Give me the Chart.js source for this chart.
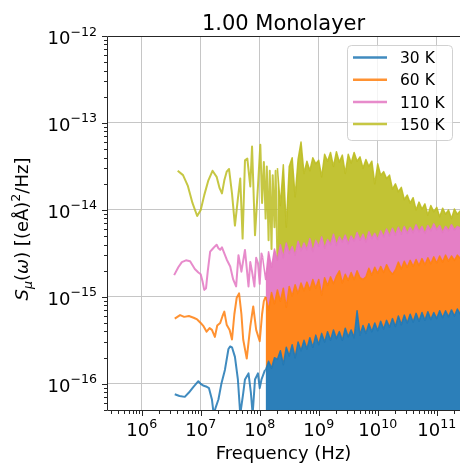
<!DOCTYPE html>
<html>
<head>
<meta charset="utf-8">
<script src="https://cdn.jsdelivr.net/npm/chart.js@4.4.0/dist/chart.umd.min.js"></script>
<style>
  body { margin: 0; background: #fff; }
  canvas { display: block; }
</style>
</head>
<body>
<canvas id="spectrum" width="460" height="465"></canvas>
<script>
const seriesLabels = ["30 K", "60 K", "110 K", "150 K"];
const seriesColors = ["31,119,180", "255,127,14", "227,119,194", "188,189,34"];
const bandColors = ["44,127,185", "255,133,28", "229,127,198", "194,195,52"];

// low-frequency part of each spectrum, as log10(f [Hz]) and log10(S)
const lowFreqExp30 = [6.56, 6.64, 6.73, 6.80, 6.87, 6.96, 7.00, 7.04, 7.09, 7.14,
  7.19, 7.22, 7.25, 7.30, 7.35, 7.41, 7.47, 7.50, 7.53, 7.58,
  7.63, 7.67, 7.72, 7.75, 7.81, 7.85, 7.88, 7.92, 7.97, 8.00,
  8.03, 8.09];
const lowVal30 = [-16.12, -16.14, -16.15, -16.10, -16.04, -15.97, -16.00, -16.02, -16.03, -16.05,
  -16.18, -16.35, -16.28, -16.18, -16.00, -15.84, -15.60, -15.57, -15.58, -15.69,
  -15.95, -16.35, -16.11, -15.95, -15.88, -16.10, -16.35, -15.95, -15.88, -16.05,
  -15.95, -15.84];

const lowFreqExp60 = [6.56, 6.65, 6.72, 6.80, 6.88, 6.94, 7.00, 7.05, 7.10, 7.15,
  7.19, 7.24, 7.28, 7.33, 7.37, 7.40, 7.44, 7.49, 7.53, 7.57,
  7.61, 7.65, 7.69, 7.72, 7.78, 7.84, 7.89, 7.94, 8.00, 8.04,
  8.07, 8.10];
const lowVal60 = [-15.25, -15.21, -15.23, -15.22, -15.24, -15.26, -15.30, -15.34, -15.40, -15.36,
  -15.38, -15.46, -15.33, -15.30, -15.22, -15.17, -15.32, -15.38, -15.49, -15.20,
  -15.01, -14.96, -15.20, -15.49, -15.71, -15.34, -15.11, -15.38, -15.51, -15.20,
  -15.05, -15.00];

const lowFreqExp110 = [6.55, 6.62, 6.68, 6.75, 6.82, 6.90, 6.96, 7.00, 7.03, 7.06,
  7.09, 7.12, 7.16, 7.20, 7.24, 7.27, 7.30, 7.33, 7.36, 7.40,
  7.44, 7.50, 7.55, 7.60, 7.64, 7.69, 7.75, 7.81, 7.84, 7.87,
  7.91, 7.94, 7.97, 8.00, 8.03, 8.05];
const lowVal110 = [-14.75, -14.66, -14.60, -14.58, -14.59, -14.68, -14.72, -14.74, -14.82, -14.92,
  -14.90, -14.70, -14.48, -14.45, -14.42, -14.40, -14.44, -14.46, -14.43, -14.50,
  -14.57, -14.65, -14.80, -14.88, -14.52, -14.71, -14.46, -14.88, -14.60, -14.71,
  -14.88, -14.55, -14.61, -14.85, -14.50, -14.55];

const lowFreqExp150 = [6.61, 6.70, 6.78, 6.86, 6.94, 7.00, 7.06, 7.13, 7.20, 7.27,
  7.32, 7.36, 7.40, 7.44, 7.48, 7.53, 7.58, 7.63, 7.67, 7.71,
  7.75, 7.79, 7.84, 7.87, 7.92, 7.97, 8.01, 8.04, 8.07, 8.10,
  8.12, 8.15, 8.17, 8.20, 8.22, 8.25, 8.27, 8.30];
const lowVal150 = [-13.55, -13.60, -13.72, -13.92, -14.07, -14.00, -13.83, -13.66, -13.55, -13.62,
  -13.75, -13.81, -13.66, -13.56, -13.53, -13.81, -14.18, -13.87, -13.64, -14.33,
  -13.43, -13.41, -13.73, -13.27, -14.29, -13.73, -13.25, -13.92, -13.45, -14.10,
  -13.50, -14.35, -13.55, -14.45, -13.60, -14.20, -13.55, -14.60];

// dense high-frequency part: top edge of the noise band, log10(f) and log10(S)
const bandFreqExp30 = [8.10, 8.15, 8.20, 8.25, 8.30, 8.35, 8.40, 8.45, 8.50, 8.55,
  8.60, 8.65, 8.70, 8.75, 8.80, 8.85, 8.90, 8.95, 9.00, 9.05,
  9.10, 9.15, 9.20, 9.25, 9.30, 9.35, 9.40, 9.45, 9.50, 9.55,
  9.60, 9.65, 9.70, 9.75, 9.80, 9.85, 9.90, 9.95, 10.00, 10.05,
  10.10, 10.15, 10.20, 10.25, 10.30, 10.35, 10.40, 10.45, 10.50, 10.55,
  10.60, 10.65, 10.70, 10.75, 10.80, 10.85, 10.90, 10.95, 11.00, 11.05,
  11.10, 11.15, 11.20, 11.25, 11.30, 11.35, 11.40];
const band30 = [-15.84, -15.74, -15.82, -15.70, -15.72, -15.62, -15.78, -15.58, -15.68, -15.55,
  -15.70, -15.52, -15.62, -15.50, -15.60, -15.47, -15.58, -15.44, -15.55, -15.42,
  -15.52, -15.40, -15.50, -15.38, -15.48, -15.40, -15.50, -15.36, -15.46, -15.38,
  -15.47, -15.16, -15.44, -15.33, -15.42, -15.31, -15.40, -15.30, -15.39, -15.28,
  -15.37, -15.27, -15.35, -15.25, -15.34, -15.22, -15.32, -15.21, -15.30, -15.20,
  -15.29, -15.19, -15.28, -15.18, -15.27, -15.17, -15.26, -15.18, -15.25, -15.16,
  -15.24, -15.16, -15.23, -15.15, -15.22, -15.14, -15.20];

const bandFreqExp60 = [8.10, 8.15, 8.20, 8.25, 8.30, 8.35, 8.40, 8.45, 8.50, 8.55,
  8.60, 8.65, 8.70, 8.75, 8.80, 8.85, 8.90, 8.95, 9.00, 9.05,
  9.10, 9.15, 9.20, 9.25, 9.30, 9.35, 9.40, 9.45, 9.50, 9.55,
  9.60, 9.65, 9.70, 9.75, 9.80, 9.85, 9.90, 9.95, 10.00, 10.05,
  10.10, 10.15, 10.20, 10.25, 10.30, 10.35, 10.40, 10.45, 10.50, 10.55,
  10.60, 10.65, 10.70, 10.75, 10.80, 10.85, 10.90, 10.95, 11.00, 11.05,
  11.10, 11.15, 11.20, 11.25, 11.30, 11.35, 11.40];
const band60 = [-15.00, -15.15, -14.95, -15.08, -14.92, -15.05, -14.90, -15.12, -14.88, -14.99,
  -14.86, -14.96, -14.84, -14.93, -14.83, -14.92, -14.80, -14.90, -14.80, -14.98,
  -14.78, -14.87, -14.77, -14.85, -14.76, -14.70, -14.84, -14.74, -14.81, -14.72,
  -14.80, -14.70, -14.78, -14.80, -14.77, -14.67, -14.75, -14.66, -14.73, -14.65,
  -14.72, -14.63, -14.70, -14.74, -14.69, -14.60, -14.68, -14.59, -14.66, -14.58,
  -14.65, -14.57, -14.64, -14.56, -14.63, -14.55, -14.62, -14.54, -14.61, -14.53,
  -14.60, -14.52, -14.59, -14.53, -14.58, -14.52, -14.56];

const bandFreqExp110 = [8.05, 8.10, 8.15, 8.20, 8.25, 8.30, 8.35, 8.40, 8.45, 8.50,
  8.55, 8.60, 8.65, 8.70, 8.75, 8.80, 8.85, 8.90, 8.95, 9.00,
  9.05, 9.10, 9.15, 9.20, 9.25, 9.30, 9.35, 9.40, 9.45, 9.50,
  9.55, 9.60, 9.65, 9.70, 9.75, 9.80, 9.85, 9.90, 9.95, 10.00,
  10.05, 10.10, 10.15, 10.20, 10.25, 10.30, 10.35, 10.40, 10.45, 10.50,
  10.55, 10.60, 10.65, 10.70, 10.75, 10.80, 10.85, 10.90, 10.95, 11.00,
  11.05, 11.10, 11.15, 11.20, 11.25, 11.30, 11.35, 11.40];
const band110 = [-14.55, -14.80, -14.48, -14.66, -14.45, -14.58, -14.40, -14.55, -14.38, -14.50,
  -14.42, -14.52, -14.36, -14.47, -14.38, -14.46, -14.33, -14.48, -14.35, -14.42,
  -14.31, -14.44, -14.34, -14.40, -14.28, -14.41, -14.31, -14.37, -14.29, -14.39,
  -14.30, -14.36, -14.26, -14.35, -14.28, -14.37, -14.25, -14.33, -14.27, -14.34,
  -14.24, -14.31, -14.22, -14.30, -14.21, -14.29, -14.20, -14.28, -14.19, -14.27,
  -14.20, -14.26, -14.17, -14.25, -14.19, -14.27, -14.18, -14.24, -14.16, -14.23,
  -14.18, -14.26, -14.19, -14.24, -14.17, -14.23, -14.19, -14.21];

const bandFreqExp150 = [8.30, 8.35, 8.40, 8.45, 8.50, 8.55, 8.60, 8.65, 8.70, 8.75,
  8.80, 8.85, 8.90, 8.95, 9.00, 9.05, 9.10, 9.15, 9.20, 9.25,
  9.30, 9.35, 9.40, 9.45, 9.50, 9.55, 9.60, 9.65, 9.70, 9.75,
  9.80, 9.85, 9.90, 9.95, 10.00, 10.05, 10.10, 10.15, 10.20, 10.25,
  10.30, 10.35, 10.40, 10.45, 10.50, 10.55, 10.60, 10.65, 10.70, 10.75,
  10.80, 10.85, 10.90, 10.95, 11.00, 11.05, 11.10, 11.15, 11.20, 11.25,
  11.30, 11.35, 11.40];
const band150 = [-13.52, -13.95, -13.48, -14.20, -13.50, -13.40, -13.85, -13.42, -13.22, -13.58,
  -13.44, -13.55, -13.40, -13.47, -13.43, -13.62, -13.36, -13.44, -13.34, -13.50,
  -13.33, -13.45, -13.37, -13.58, -13.36, -13.46, -13.34, -13.44, -13.39, -13.52,
  -13.42, -13.50, -13.44, -13.70, -13.47, -13.60, -13.56, -13.64, -13.60, -13.76,
  -13.70, -13.79, -13.74, -13.88, -13.83, -13.92, -13.86, -14.00, -13.91, -13.99,
  -13.93, -14.06, -13.95, -14.02, -13.97, -14.08, -13.98, -14.05, -14.00, -14.10,
  -13.99, -14.05, -14.01];

const xTickExps = [6, 7, 8, 9, 10, 11];
const yTickExps = [-16, -15, -14, -13, -12];
const xMin = 2.58e5, xMax = 2.48e11;
const yMin = 5e-17, yMax = 1e-12;

const lowFreqs = [lowFreqExp30, lowFreqExp60, lowFreqExp110, lowFreqExp150];
const lowVals = [lowVal30, lowVal60, lowVal110, lowVal150];
const bandFreqs = [bandFreqExp30, bandFreqExp60, bandFreqExp110, bandFreqExp150];
const bands = [band30, band60, band110, band150];

function toPoints(freqExp, valExp) {
    return freqExp.map((f, i) => ({ x: Math.pow(10, f), y: Math.pow(10, valExp[i]) }));
}

const rgba = (c, a) => "rgba(" + c + "," + a + ")";

// line + band per temperature; the first dataset ends up drawn on top.
// each band is filled down to the top of the next colder band (index 2i-1)
const datasets = [];
seriesLabels.forEach((label, i) => {
    datasets.push({
        label: label,
        data: toPoints(lowFreqs[i], lowVals[i]),
        borderColor: rgba(seriesColors[i], 0.85),
        borderWidth: 2,
        borderJoinStyle: "round",
        pointRadius: 0,
        fill: false,
    });
    datasets.push({
        label: label + " band",
        data: toPoints(bandFreqs[i], bands[i]),
        borderColor: rgba(seriesColors[i], 0.9),
        backgroundColor: rgba(bandColors[i], 1),
        borderWidth: 1.5,
        borderJoinStyle: "round",
        pointRadius: 0,
        fill: i === 0 ? "start" : 2 * i - 1,
    });
});

const FONT = "'DejaVu Sans', sans-serif";

function drawPower(ctx, exp, x, y, align) {
    const base = "10";
    const sup = exp < 0 ? "\u2212" + Math.abs(exp) : String(exp);
    ctx.font = "18px " + FONT;
    const wb = ctx.measureText(base).width;
    ctx.font = "12.6px " + FONT;
    const ws = ctx.measureText(sup).width;
    const x0 = align === "right" ? x - wb - ws : x - (wb + ws) / 2;
    ctx.textAlign = "left";
    ctx.font = "18px " + FONT;
    ctx.fillText(base, x0, y);
    ctx.font = "12.6px " + FONT;
    ctx.fillText(sup, x0 + wb, y - 8.5);
}

const decorations = {
    id: "decorations",
    afterDraw(chart) {
        const { ctx, chartArea: a } = chart;
        const xs = chart.scales.x, ys = chart.scales.y;
        ctx.save();
        ctx.strokeStyle = "#262626";
        ctx.lineWidth = 1;

        // spines
        ctx.beginPath();
        ctx.moveTo(a.right, a.top + 0.5);
        ctx.lineTo(a.left + 0.5, a.top + 0.5);
        ctx.lineTo(a.left + 0.5, a.bottom + 0.5);
        ctx.lineTo(a.right, a.bottom + 0.5);
        ctx.stroke();

        // major and minor tick marks
        ctx.beginPath();
        for (let d = 5; d <= 11; d++) {
            for (let k = 1; k <= 9; k++) {
                const v = k * Math.pow(10, d);
                if (v < xMin || v > xMax) continue;
                const px = Math.round(xs.getPixelForValue(v)) + 0.5;
                ctx.moveTo(px, a.bottom + 1);
                ctx.lineTo(px, a.bottom + (k === 1 ? 6 : 4));
            }
        }
        for (let d = -17; d <= -12; d++) {
            for (let k = 1; k <= 9; k++) {
                const v = k * Math.pow(10, d);
                if (v < yMin || v > yMax * 1.0001) continue;
                const py = Math.round(ys.getPixelForValue(v)) + 0.5;
                ctx.moveTo(a.left, py);
                ctx.lineTo(a.left - (k === 1 ? 5 : 3), py);
            }
        }
        ctx.stroke();

        // tick labels
        ctx.fillStyle = "#000";
        ctx.textBaseline = "alphabetic";
        xTickExps.forEach(e => drawPower(ctx, e, xs.getPixelForValue(Math.pow(10, e)), 436, "center"));
        yTickExps.forEach(e => drawPower(ctx, e, 97, ys.getPixelForValue(Math.pow(10, e)) + 8, "right"));

        // title and x label
        ctx.textAlign = "center";
        ctx.font = "21px " + FONT;
        ctx.fillText("1.00 Monolayer", (a.left + a.right) / 2, 29.5);
        ctx.font = "18px " + FONT;
        ctx.fillText("Frequency (Hz)", (a.left + a.right) / 2, 459);

        // y label: S_mu(omega) [(eÅ)^2/Hz]
        const parts = [
            { t: "S", f: "italic 18px ", dy: 0 },
            { t: "\u03bc", f: "italic 12.6px ", dy: 3.5 },
            { t: "(", f: "18px ", dy: 0 },
            { t: "\u03c9", f: "italic 18px ", dy: 0 },
            { t: ")", f: "18px ", dy: 0 },
            { t: " [(e\u00c5)", f: "18px ", dy: 0 },
            { t: "2", f: "12.6px ", dy: -8 },
            { t: "/Hz]", f: "18px ", dy: 0 },
        ];
        let total = 0;
        parts.forEach(p => { ctx.font = p.f + FONT; p.w = ctx.measureText(p.t).width; total += p.w; });
        ctx.save();
        ctx.translate(28, 229);
        ctx.rotate(-Math.PI / 2);
        ctx.textAlign = "left";
        let cx = -total / 2;
        parts.forEach(p => { ctx.font = p.f + FONT; ctx.fillText(p.t, cx, p.dy); cx += p.w; });
        ctx.restore();

        // legend
        const lx = 347.5, ly = 45.5, lw = 105, lh = 95;
        ctx.beginPath();
        ctx.roundRect(lx, ly, lw, lh, 4);
        ctx.fillStyle = "rgba(255,255,255,0.8)";
        ctx.fill();
        ctx.strokeStyle = "rgba(204,204,204,0.9)";
        ctx.stroke();
        ctx.font = "15.5px " + FONT;
        ctx.textAlign = "left";
        seriesLabels.forEach((label, i) => {
            const ry = 57.5 + i * 22.2;
            ctx.strokeStyle = rgba(seriesColors[i], 0.85);
            ctx.lineWidth = 2.5;
            ctx.beginPath();
            ctx.moveTo(353, ry);
            ctx.lineTo(387, ry);
            ctx.stroke();
            ctx.fillStyle = "#000";
            ctx.fillText(label, 400, ry + 5.6);
        });
        ctx.restore();
    },
};

const decadeTicks = exps => exps.map(e => ({ value: Math.pow(10, e), major: true }));

new Chart(document.getElementById("spectrum"), {
    type: "line",
    data: { datasets: datasets },
    options: {
        responsive: false,
        animation: false,
        layout: { padding: { top: 36, left: 0, right: 0, bottom: 0 } },
        plugins: {
            legend: { display: false },
            title: { display: false },
            tooltip: { enabled: false },
        },
        scales: {
            x: {
                type: "logarithmic",
                min: xMin,
                max: xMax,
                ticks: { display: false },
                border: { display: false },
                grid: { color: "#c6c6c6", lineWidth: 1, drawTicks: false },
                afterBuildTicks: axis => { axis.ticks = decadeTicks(xTickExps); },
                afterFit: axis => { axis.height = 55; },
            },
            y: {
                type: "logarithmic",
                min: yMin,
                max: yMax,
                ticks: { display: false },
                border: { display: false },
                grid: { color: "#c6c6c6", lineWidth: 1, drawTicks: false },
                afterBuildTicks: axis => { axis.ticks = decadeTicks(yTickExps); },
                afterFit: axis => { axis.width = 107; },
            },
        },
    },
    plugins: [decorations],
});
</script>
</body>
</html>
